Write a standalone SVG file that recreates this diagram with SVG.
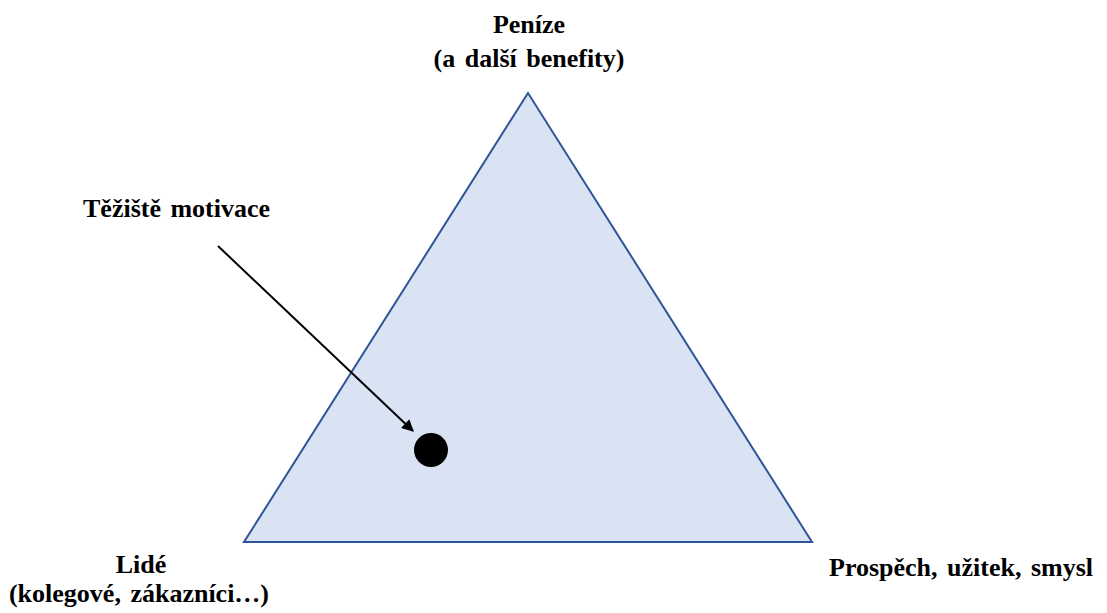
<svg xmlns="http://www.w3.org/2000/svg" width="1107" height="613" viewBox="0 0 1107 613">
<style>
text{font-family:"Liberation Serif","Times New Roman",serif;font-weight:bold;font-size:26px;word-spacing:3px;fill:#000}
.c{text-anchor:middle}
</style>
<defs>
<marker id="ah" viewBox="0 0 10 10" refX="9" refY="5" markerWidth="6" markerHeight="6" orient="auto" markerUnits="strokeWidth">
<path d="M0,0 L10,5 L0,10 z" fill="#000"/>
</marker>
</defs>
<rect width="1107" height="613" fill="#fff"/>
<g id="triangle">
<polygon points="528,93 244,542 812,542" fill="#dae3f3" stroke="#2f5597" stroke-width="2"/>
</g>
<g id="penize"><text class="c" x="529" y="33">Peníze</text><text class="c" x="529" y="67">(a další benefity)</text></g>
<g id="lide"><text class="c" x="141" y="573">Lidé</text><text class="c" x="139" y="602">(kolegové, zákazníci…)</text></g>
<g id="prospech"><text x="829" y="576">Prospěch, užitek, smysl</text></g>
<g id="teziste"><text x="83" y="217">Těžiště motivace</text></g>
<g id="bod"><circle cx="431" cy="450" r="17" fill="#000"/></g>
<g id="connectors">
<line x1="218" y1="246" x2="413" y2="431" stroke="#000" stroke-width="2" marker-end="url(#ah)"/>
</g>
</svg>
